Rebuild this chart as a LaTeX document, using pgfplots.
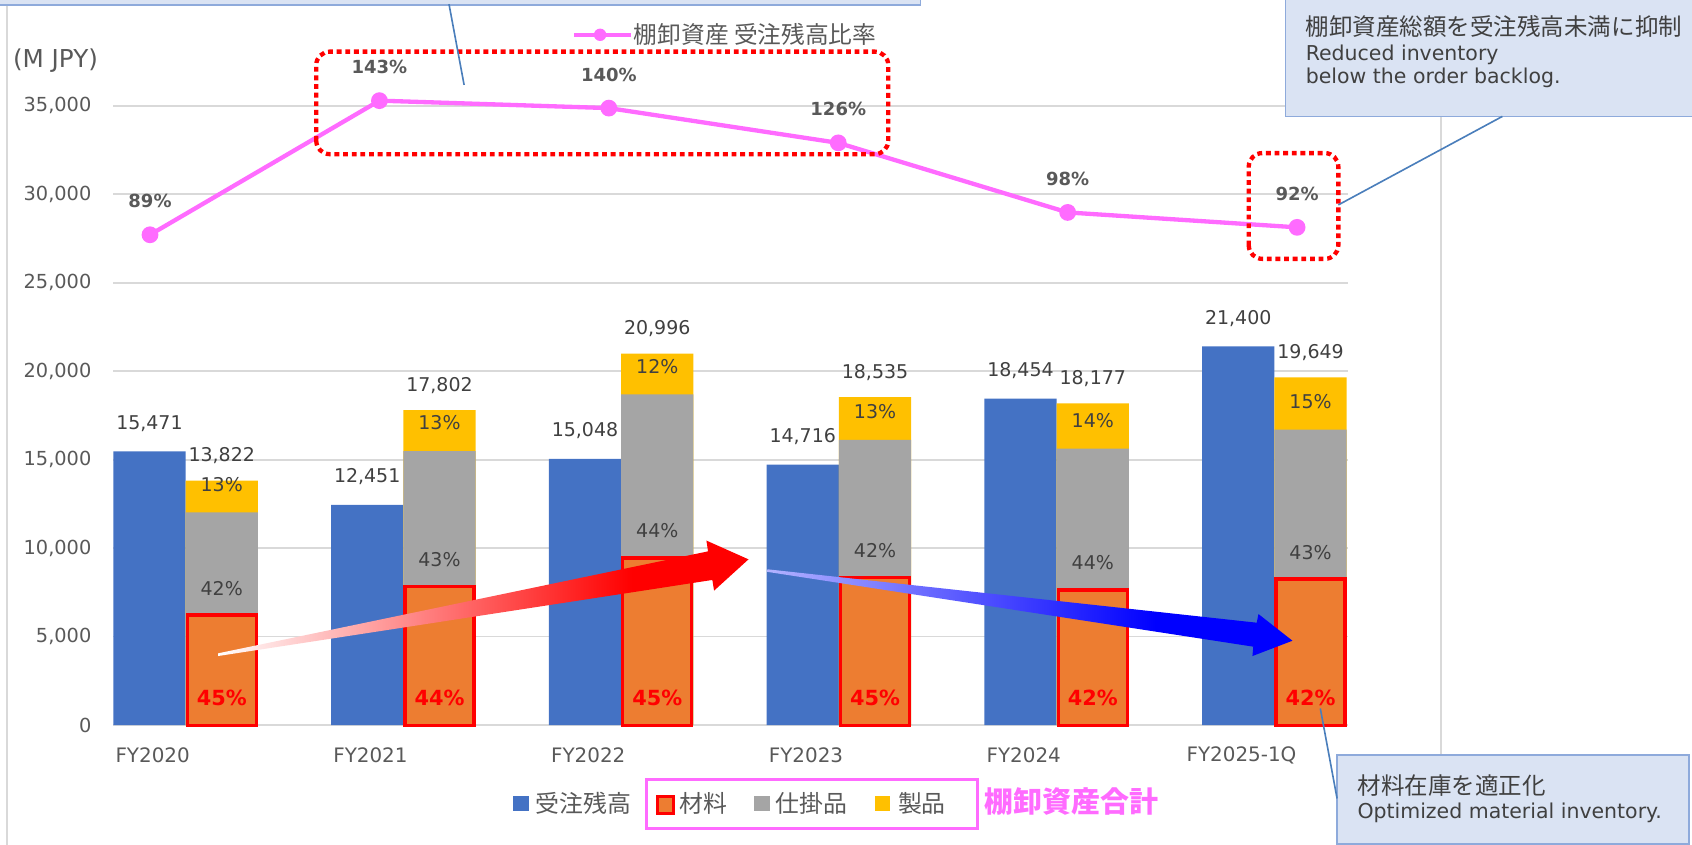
\documentclass[border=0pt]{standalone}
\usepackage{pgfplots}
\pgfplotsset{compat=1.18}
\usepackage{pgfplotstable}
\usepackage{fontspec}
\setmainfont{DejaVu Sans}
\newfontfamily\jp{Noto Sans CJK JP}
\definecolor{cblue}{HTML}{4472C4}
\definecolor{corange}{HTML}{ED7D31}
\definecolor{cgray}{HTML}{A5A5A5}
\definecolor{cyellow}{HTML}{FFC000}
\definecolor{cpink}{HTML}{FF6BFF}
\definecolor{labgray}{HTML}{595959}
\definecolor{dgray}{HTML}{404040}
\definecolor{gridgray}{HTML}{D9D9D9}
\definecolor{cfill}{HTML}{DAE3F3}
\definecolor{cborder}{HTML}{8EAADB}
\definecolor{cline}{HTML}{4A7EBB}
\definecolor{cred}{HTML}{FF0000}
\pgfdeclarehorizontalshading{redarrow}{100bp}{color(0bp)=(white); color(25bp)=(white); color(64bp)=(red); color(100bp)=(red)}
\pgfdeclarehorizontalshading{bluearrow}{100bp}{color(0bp)=(blue!30!white); color(25bp)=(blue!30!white); color(62bp)=(blue); color(100bp)=(blue)}
\pgfkeys{/pgf/number format/.cd,1000 sep={,},assume math mode=true}
\newcommand\fsz[2]{\fontsize{#1pt}{#2pt}\selectfont}

\pgfplotstableread{
x backlog mat wip prod total mp wp pp
0 15471 6220 5805 1797 13822 45 42 13
1 12451 7833 7655 2314 17802 44 43 13
2 15048 9448 9238 2310 20996 45 44 12
3 14716 8341 7785 2409 18535 45 42 13
4 18454 7634 7998 2545 18177 42 44 14
5 21400 8253 8449 2947 19649 42 43 15
}\datatable

\pgfplotstableread{
x r
0 89
1 143
2 140
3 126
4 98
5 92
}\ratiotable

\begin{document}
\begin{tikzpicture}
\useasboundingbox (0,0) rectangle (31.36cm,15.66cm);
\clip (0,0) rectangle (31.36cm,15.66cm);
\begin{scope}[x=0.02cm,y=0.02cm]
\draw[gridgray, line width=0.03cm] (6.5,-5) -- (6.5,779);
\draw[gridgray, line width=0.03cm] (1335,-5) -- (1335,676);
\end{scope}

\begin{axis}[
  at={(2.1cm,2.22cm)}, anchor=south west, scale only axis,
  width=22.88cm, height=12.48cm,
  xmin=-0.332, xmax=5.337, ymin=0, ymax=38049,
  ytick={0,5000,...,35000}, scaled y ticks=false,
  ymajorgrids, grid style={draw=gridgray, line width=0.03cm},
  axis line style={draw=none}, tick style={draw=none},
  xtick={0,...,5},
  xticklabels={FY2020,FY2021,FY2022,FY2023,FY2024,FY2025-1Q},
  xticklabel style={anchor=center, inner sep=0pt, xshift=-0.61cm, yshift=-0.56cm, text=labgray, font=\fsz{10.5}{12}},
  yticklabel style={anchor=east, inner sep=0pt, xshift=-0.4cm, text=labgray, font=\fsz{10.2}{12}},
  clip=false,
]
\addplot[ybar, bar width=1.34cm, bar shift=-0.67cm, fill=cblue, draw=none] table[x=x,y=backlog]{\datatable};
\addplot[ybar, bar width=1.34cm, bar shift=0.67cm, fill=cyellow, draw=none] table[x=x,y expr=\thisrow{mat}+\thisrow{wip}+\thisrow{prod}]{\datatable};
\addplot[ybar, bar width=1.34cm, bar shift=0.67cm, fill=cgray, draw=none] table[x=x,y expr=\thisrow{mat}+\thisrow{wip}]{\datatable};
\addplot[ybar, bar width=1.28cm, bar shift=0.67cm, fill=corange, draw=cred, line width=0.06cm] table[x=x,y=mat]{\datatable};
\addplot[draw=none, nodes near coords, point meta=\thisrow{backlog},
  nodes near coords style={anchor=center, xshift=-0.67cm, yshift=0.52cm, text=dgray, font=\fsz{10}{12}}]
  table[x=x,y=backlog]{\datatable};
\addplot[draw=none, nodes near coords, point meta=\thisrow{total},
  nodes near coords style={anchor=center, xshift=0.67cm, yshift=0.46cm, text=dgray, font=\fsz{10}{12}}]
  table[x=x,y=total]{\datatable};
\addplot[draw=none, nodes near coords={\pgfmathprintnumber{\pgfplotspointmeta}\%}, point meta=\thisrow{mp},
  nodes near coords style={anchor=center, xshift=0.67cm, yshift=0.5cm, text=cred, font=\bfseries\fsz{11}{13}}]
  table[x=x,y expr=0]{\datatable};
\addplot[draw=none, nodes near coords={\pgfmathprintnumber{\pgfplotspointmeta}\%}, point meta=\thisrow{wp},
  nodes near coords style={anchor=center, xshift=0.67cm, yshift=0.5cm, text=dgray, font=\fsz{10}{12}}]
  table[x=x,y=mat]{\datatable};
\addplot[draw=none, nodes near coords={\pgfmathprintnumber{\pgfplotspointmeta}\%}, point meta=\thisrow{pp},
  nodes near coords style={anchor=center, xshift=0.67cm, yshift=0.52cm, text=dgray, font=\fsz{10}{12}}]
  table[x=x,y expr=\thisrow{mat}+\thisrow{wip}]{\datatable};
\end{axis}

\begin{axis}[
  at={(2.1cm,2.22cm)}, anchor=south west, scale only axis,
  width=22.88cm, height=12.48cm,
  xmin=-0.16, xmax=5.221, ymin=-108.4, ymax=162.67,
  hide axis, clip=false,
]
\addplot[color=cpink, line width=0.08cm, mark=*, mark size=0.115cm,
  mark options={fill=cpink, draw=none},
  nodes near coords={\pgfmathprintnumber{\pgfplotspointmeta}\%}, point meta=\thisrow{r},
  nodes near coords style={anchor=center, yshift=0.62cm, text=labgray, font=\bfseries\fsz{9.5}{11}}]
  table[x=x,y=r]{\ratiotable};
\end{axis}

\begin{scope}[x=0.02cm,y=0.02cm]
% gradient arrows
\shade[shading=redarrow] (202,177.5) -- (656,272) -- (654.5,282) -- (693.5,264.6) -- (661.6,235.6) -- (660,245.5) -- (202,175) -- cycle;
\shade[shading=bluearrow] (711,255.4) -- (1164.4,205.9) -- (1166,213.9) -- (1197.5,189.2) -- (1160.4,175) -- (1161.2,183.7) -- (711,253) -- cycle;

% red dotted boxes
\draw[cred, line width=0.08cm, dash pattern=on 0.09cm off 0.07cm, rounded corners=0.25cm] (293,640) rectangle (823,735);
\draw[cred, line width=0.08cm, dash pattern=on 0.09cm off 0.07cm, rounded corners=0.25cm] (1157,543) rectangle (1240,641);

% callouts
\draw[fill=cfill, draw=cborder, line width=0.03cm] (-20,778.4) rectangle (853,830);
\draw[cline, line width=0.03cm] (416,779) -- (430,704.2);

\draw[fill=cfill, draw=cborder, line width=0.03cm] (1191,675) rectangle (1620,830);
\draw[cline, line width=0.03cm] (1392,675) -- (1240,593);
\node[anchor=base west, inner sep=0pt, text=dgray] at (1209.5,749.6) {\jp\fsz{12.4}{14}棚卸資産総額を受注残高未満に抑制};
\node[anchor=base west, inner sep=0pt, text=dgray] at (1209.5,726.5) {\fsz{10.8}{13}Reduced inventory};
\node[anchor=base west, inner sep=0pt, text=dgray] at (1209.5,705.8) {\fsz{10.8}{13}below the order backlog.};

\draw[fill=cfill, draw=cborder, line width=0.03cm] (1239,1) rectangle (1565,83.3);
\draw[cline, line width=0.03cm] (1223.3,126.5) -- (1238.8,43.1);
\node[anchor=base west, inner sep=0pt, text=dgray] at (1257.4,47) {\jp\fsz{12.4}{14}材料在庫を適正化};
\node[anchor=base west, inner sep=0pt, text=dgray] at (1257.4,24.6) {\fsz{10.8}{13}Optimized material inventory.};

% unit label
\node[anchor=west, inner sep=0pt, text=labgray] at (11.7,727) {\fsz{13}{15}(M JPY)};

% top legend
\draw[cpink, line width=0.08cm] (532,750.6) -- (585,750.6);
\fill[cpink] (556,750.6) circle (0.115cm);
\node[anchor=west, inner sep=0pt, text=labgray] at (587,751) {\jp\fsz{12.5}{14}棚卸資産 受注残高比率};

% bottom legend
\fill[cblue] (475,31) rectangle (490,45);
\node[anchor=west, inner sep=0pt, text=labgray] at (496,38.5) {\jp\fsz{12.6}{14}受注残高};
\draw[cpink, line width=0.06cm] (598.7,15.3) rectangle (906,60.7);
\draw[fill=corange, draw=cred, line width=0.06cm] (609,29) rectangle (624,45);
\node[anchor=west, inner sep=0pt, text=labgray] at (629,38.5) {\jp\fsz{12.6}{14}材料};
\fill[cgray] (699,31) rectangle (713,45);
\node[anchor=west, inner sep=0pt, text=labgray] at (718.6,38.5) {\jp\fsz{12.6}{14}仕掛品};
\fill[cyellow] (811,31) rectangle (825,45);
\node[anchor=west, inner sep=0pt, text=labgray] at (831.7,38.5) {\jp\fsz{12.6}{14}製品};
\node[anchor=west, inner sep=0pt, text=cpink] at (911.5,40) {\jp\bfseries\fsz{15.3}{17}棚卸資産合計};
\end{scope}
\end{tikzpicture}
\end{document}
